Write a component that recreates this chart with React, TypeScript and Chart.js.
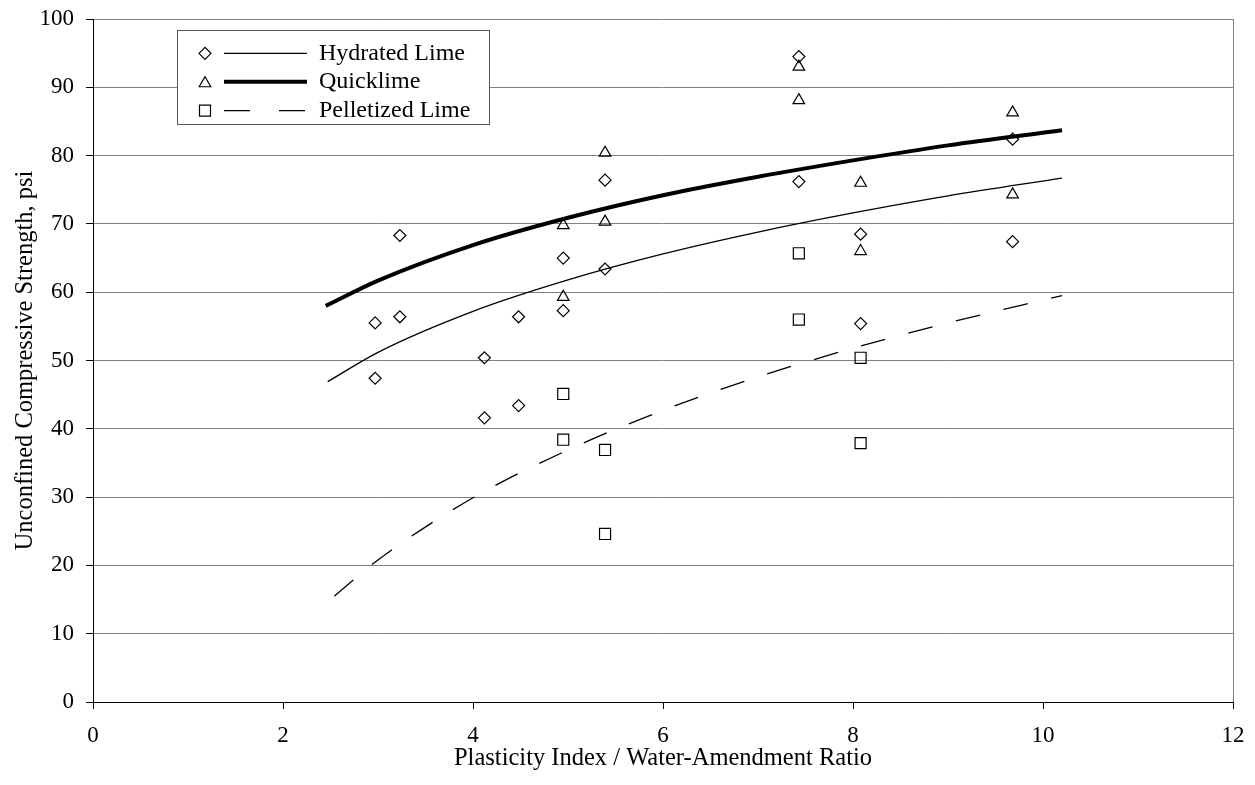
import React, { useEffect, useRef } from 'react';
import { Chart, registerables } from 'chart.js';

Chart.register(...registerables);

// ---- Data ----
const seriesNames = ['Hydrated Lime', 'Quicklime', 'Pelletized Lime'];

const hydratedX = [2.97, 2.97, 3.23, 3.23, 4.12, 4.12, 4.48, 4.48, 4.95, 4.95, 5.39, 5.39, 7.43, 7.43, 8.08, 8.08, 9.68, 9.68];
const hydratedY = [55.5, 47.4, 68.3, 56.4, 50.4, 41.6, 56.4, 43.4, 65.0, 57.3, 76.4, 63.4, 94.5, 76.2, 68.5, 55.4, 82.4, 67.4];

const quickX = [4.95, 4.95, 5.39, 5.39, 7.43, 7.43, 8.08, 8.08, 9.68, 9.68];
const quickY = [69.8, 59.3, 80.4, 70.3, 93.0, 88.1, 76.0, 66.0, 86.3, 74.3];

const pelletX = [4.95, 4.95, 5.39, 5.39, 7.43, 7.43, 8.08, 8.08];
const pelletY = [45.1, 38.4, 36.9, 24.6, 65.7, 56.0, 50.4, 37.9];

// Trend curves
const hydratedTrendX = [2.47, 3, 4, 5, 6, 7, 8, 9, 10.2];
const hydratedTrendY = [46.9, 51.2, 57.2, 61.8, 65.6, 68.8, 71.6, 74.1, 76.7];
const quickTrendX = [2.45, 3, 4, 5, 6, 7, 8, 9, 10.2];
const quickTrendY = [58.0, 61.7, 66.9, 70.9, 74.2, 76.9, 79.3, 81.5, 83.7];
const pelletTrendX = [2.54, 3, 4, 5, 6, 7, 8, 9, 10.2];
const pelletTrendY = [15.5, 20.8, 29.9, 36.9, 42.7, 47.6, 51.8, 55.5, 59.5];

const xRange = [0, 12];
const xStep = 2;
const yRange = [0, 100];
const yStep = 10;

const xTitle = 'Plasticity Index / Water-Amendment Ratio';
const yTitle = 'Unconfined Compressive Strength, psi';

const FONT = '"Liberation Serif", "Times New Roman", serif';

const toPts = (xs: number[], ys: number[]) => xs.map((x, i) => ({ x, y: ys[i] }));

type LegendSpec = { marker: string; lineWidth: number; dash: number[] };
const legendSpecs: LegendSpec[] = [
  { marker: 'diamond', lineWidth: 1.3, dash: [] },
  { marker: 'triangle', lineWidth: 4, dash: [] },
  { marker: 'square', lineWidth: 1.3, dash: [26, 29] },
];

function drawMarker(ctx: CanvasRenderingContext2D, kind: string, x: number, y: number) {
  ctx.beginPath();
  if (kind === 'diamond') {
    const r = 6;
    ctx.moveTo(x - r, y);
    ctx.lineTo(x, y - r);
    ctx.lineTo(x + r, y);
    ctx.lineTo(x, y + r);
    ctx.closePath();
  } else if (kind === 'triangle') {
    const r = 6.7;
    const cy = y + r / 4;
    ctx.moveTo(x, cy - r);
    ctx.lineTo(x + r * 0.866, cy + r / 2);
    ctx.lineTo(x - r * 0.866, cy + r / 2);
    ctx.closePath();
  } else {
    const h = 5.5;
    ctx.rect(x - h, y - h, 2 * h, 2 * h);
  }
  ctx.stroke();
}

const customPlugin = {
  id: 'customDecor',
  afterDraw(chart: any) {
    const { ctx, chartArea } = chart;
    ctx.save();
    // right plot border
    ctx.strokeStyle = '#808080';
    ctx.lineWidth = 1;
    ctx.beginPath();
    ctx.moveTo(Math.round(chartArea.right) + 0.5, chartArea.top);
    ctx.lineTo(Math.round(chartArea.right) + 0.5, chartArea.bottom);
    ctx.stroke();

    // legend
    const bx = 177.5, by = 30.5, bw = 312, bh = 94;
    ctx.fillStyle = '#ffffff';
    ctx.fillRect(bx, by, bw, bh);
    ctx.strokeStyle = '#555555';
    ctx.lineWidth = 1;
    ctx.strokeRect(bx, by, bw, bh);

    const rows = [53.3, 81.7, 110.7];
    ctx.font = `24px ${FONT}`;
    ctx.textBaseline = 'middle';
    ctx.textAlign = 'left';
    seriesNames.forEach((name, i) => {
      const spec = legendSpecs[i];
      const y = rows[i];
      ctx.strokeStyle = '#000';
      ctx.lineWidth = 1.2;
      ctx.setLineDash([]);
      drawMarker(ctx, spec.marker, 205, y);
      ctx.lineWidth = spec.lineWidth;
      ctx.setLineDash(spec.dash);
      ctx.beginPath();
      ctx.moveTo(224, y);
      ctx.lineTo(307, y);
      ctx.stroke();
      ctx.setLineDash([]);
      ctx.fillStyle = '#000';
      ctx.fillText(name, 319, y);
    });
    ctx.restore();
  },
};

export default function App() {
  const canvasRef = useRef<HTMLCanvasElement | null>(null);

  useEffect(() => {
    document.body.style.margin = '0';
    const canvas = canvasRef.current;
    if (!canvas) return;

    const lineBase = {
      showLine: true,
      pointRadius: 0,
      pointHoverRadius: 0,
      borderColor: '#000',
      backgroundColor: 'transparent',
      fill: false,
      cubicInterpolationMode: 'monotone' as const,
    };
    const pointBase = {
      showLine: false,
      borderColor: '#000',
      backgroundColor: 'transparent',
      pointBorderWidth: 1.2,
    };

    const chart = new Chart(canvas, {
      type: 'scatter',
      data: {
        datasets: [
          { ...lineBase, label: seriesNames[1] + ' trend', data: toPts(quickTrendX, quickTrendY), borderWidth: 4 },
          { ...lineBase, label: seriesNames[0] + ' trend', data: toPts(hydratedTrendX, hydratedTrendY), borderWidth: 1.3 },
          { ...lineBase, label: seriesNames[2] + ' trend', data: toPts(pelletTrendX, pelletTrendY), borderWidth: 1.3, borderDash: [25, 24] },
          { ...pointBase, label: seriesNames[0], data: toPts(hydratedX, hydratedY), pointStyle: 'rectRot', pointRadius: 6 },
          { ...pointBase, label: seriesNames[1], data: toPts(quickX, quickY), pointStyle: 'triangle', pointRadius: 6.7 },
          { ...pointBase, label: seriesNames[2], data: toPts(pelletX, pelletY), pointStyle: 'rect', pointRadius: 7.8 },
        ],
      },
      options: {
        animation: false,
        responsive: false,
        events: [],
        layout: { padding: { top: 19, right: 22, left: 0, bottom: 0 } },
        plugins: {
          legend: { display: false },
          tooltip: { enabled: false },
        },
        scales: {
          x: {
            type: 'linear',
            min: xRange[0],
            max: xRange[1],
            afterFit: (scale: any) => {
              scale.height = 83;
              scale.paddingLeft = 0;
              scale.paddingRight = 0;
            },
            ticks: {
              stepSize: xStep,
              color: '#000',
              font: { family: FONT, size: 23 },
              padding: 13,
              maxRotation: 0,
            },
            grid: {
              drawOnChartArea: false,
              drawTicks: true,
              tickLength: 7,
              tickColor: '#000',
            },
            border: { display: true, color: '#000', width: 1 },
            title: {
              display: true,
              text: xTitle,
              color: '#000',
              font: { family: FONT, size: 24.5 },
              padding: { top: 0, bottom: 12 },
            },
          },
          y: {
            type: 'linear',
            min: yRange[0],
            max: yRange[1],
            afterFit: (scale: any) => {
              scale.width = 93;
              scale.paddingTop = 0;
              scale.paddingBottom = 0;
            },
            ticks: {
              stepSize: yStep,
              color: '#000',
              font: { family: FONT, size: 23 },
              padding: 12,
            },
            grid: {
              drawOnChartArea: true,
              drawTicks: true,
              tickLength: 7,
              tickColor: '#000',
              color: (c: any) => (c.tick && c.tick.value === 0 ? '#000' : '#808080'),
              lineWidth: 1,
            },
            border: { display: true, color: '#000', width: 1 },
            title: {
              display: true,
              text: yTitle,
              color: '#000',
              font: { family: FONT, size: 24.5 },
              padding: { top: 11, bottom: 0 },
            },
          },
        },
      },
      plugins: [customPlugin],
    });

    return () => chart.destroy();
  }, []);

  return (
    <div style={{ width: 1255, height: 785, background: '#fff' }}>
      <canvas ref={canvasRef} width={1255} height={785} style={{ display: 'block' }} />
    </div>
  );
}
